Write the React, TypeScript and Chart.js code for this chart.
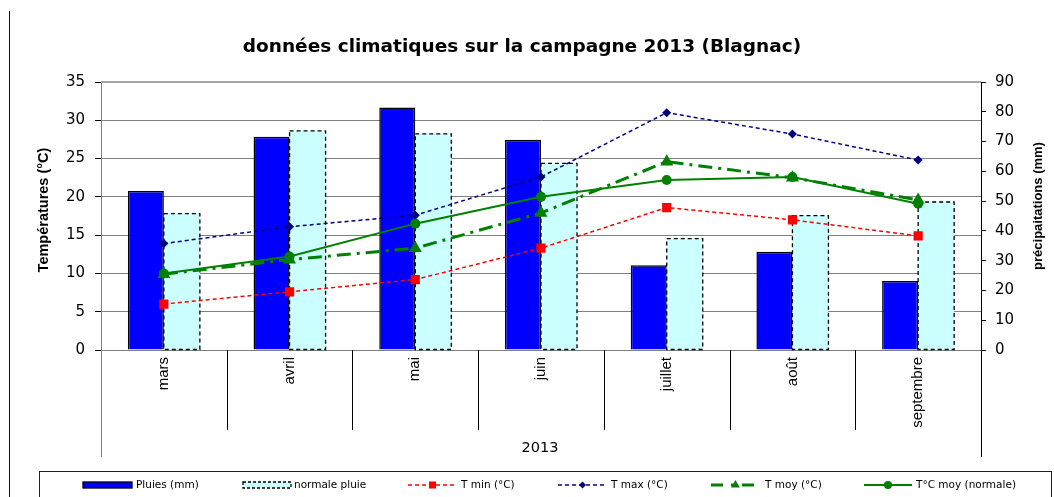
import React, { useEffect, useRef } from "react";
import { Chart, registerables } from "chart.js";

Chart.register(...registerables);

// ---------- data ----------
const months = ["mars", "avril", "mai", "juin", "juillet", "août", "septembre"];
const pluies = [53.4, 71.6, 81.4, 70.6, 28.5, 33.0, 23.2];
const normalePluie = [45.8, 73.6, 72.6, 62.7, 37.4, 45.1, 49.7];
const tMin = [6.0, 7.6, 9.2, 13.3, 18.6, 17.0, 14.9];
const tMax = [13.9, 16.1, 17.6, 22.6, 31.0, 28.2, 24.8];
const tMoy = [9.9, 11.8, 13.3, 17.9, 24.6, 22.5, 19.6];
const tMoyNormale = [10.0, 12.2, 16.5, 20.0, 22.2, 22.6, 19.1];

const tempMin = 0;
const tempMax = 35;
const tempStep = 5;
const rainMin = 0;
const rainMax = 90;
const rainStep = 10;

const yearLabel = "2013";
const titleText = "données climatiques sur la campagne 2013 (Blagnac)";
const leftTitle = "Températures (°C)";
const rightTitle = "précipaitations (mm)";
const seriesLabels = [
  "Pluies (mm)",
  "normale pluie",
  "T min (°C)",
  "T max (°C)",
  "T moy (°C)",
  "T°C moy (normale)",
];

const FONT_W = "'DejaVu Sans', 'Liberation Sans', sans-serif";
const FONT_A = "'Liberation Sans', Arial, sans-serif";

const W = 1054;
const H = 497;

function drawMarker(ctx: CanvasRenderingContext2D, style: string, x: number, y: number, r: number, color: string) {
  ctx.save();
  ctx.fillStyle = color;
  ctx.strokeStyle = color;
  ctx.setLineDash([]);
  ctx.beginPath();
  if (style === "rect") {
    const s = r * Math.SQRT1_2;
    ctx.rect(x - s, y - s, 2 * s, 2 * s);
  } else if (style === "rectRot") {
    ctx.moveTo(x - r, y);
    ctx.lineTo(x, y - r);
    ctx.lineTo(x + r, y);
    ctx.lineTo(x, y + r);
    ctx.closePath();
  } else if (style === "triangle") {
    ctx.moveTo(x, y - r);
    ctx.lineTo(x + r * Math.sin((2 * Math.PI) / 3), y + r / 2);
    ctx.lineTo(x - r * Math.sin((2 * Math.PI) / 3), y + r / 2);
    ctx.closePath();
  } else {
    ctx.arc(x, y, r, 0, Math.PI * 2);
  }
  ctx.fill();
  ctx.restore();
}

const decorPlugin = {
  id: "decor",
  afterDatasetDraw(chart: any, args: any) {
    if (args.index !== 1) return;
    const ctx: CanvasRenderingContext2D = chart.ctx;
    ctx.save();
    ctx.strokeStyle = "#000";
    ctx.lineWidth = 1.3;
    ctx.setLineDash([4, 3]);
    args.meta.data.forEach((el: any) => {
      const p = el.getProps(["x", "y", "base", "width"], true);
      ctx.strokeRect(p.x - p.width / 2, p.y, p.width, p.base - p.y);
    });
    ctx.restore();
  },
  afterDraw(chart: any) {
    const ctx: CanvasRenderingContext2D = chart.ctx;
    const ca = chart.chartArea;
    const xs = chart.scales.x;
    ctx.save();

    // plot area top border
    ctx.strokeStyle = "#a6a6a6";
    ctx.lineWidth = 2;
    ctx.beginPath();
    ctx.moveTo(ca.left, ca.top);
    ctx.lineTo(ca.right, ca.top);
    ctx.stroke();

    // outer frame line
    ctx.strokeStyle = "#111";
    ctx.lineWidth = 1;
    ctx.beginPath();
    ctx.moveTo(9.5, 11);
    ctx.lineTo(9.5, H);
    ctx.stroke();

    // title
    ctx.fillStyle = "#000";
    ctx.font = `bold 18.5px ${FONT_W}`;
    ctx.textAlign = "center";
    ctx.textBaseline = "alphabetic";
    ctx.fillText(titleText, 522, 52);

    // left axis title
    ctx.save();
    ctx.translate(44, 210);
    ctx.rotate(-Math.PI / 2);
    ctx.font = `bold 14.5px ${FONT_A}`;
    ctx.textAlign = "center";
    ctx.textBaseline = "middle";
    ctx.fillText(leftTitle, 0, 0);
    ctx.restore();

    // right axis title
    ctx.save();
    ctx.translate(1038, 206);
    ctx.rotate(-Math.PI / 2);
    ctx.font = `bold 13px ${FONT_A}`;
    ctx.textAlign = "center";
    ctx.textBaseline = "middle";
    ctx.fillText(rightTitle, 0, 0);
    ctx.restore();

    // category dividers below axis
    ctx.strokeStyle = "#000";
    ctx.lineWidth = 1;
    ctx.beginPath();
    for (let i = 0; i < months.length - 1; i++) {
      const bx = Math.round((xs.getPixelForValue(i) + xs.getPixelForValue(i + 1)) / 2) + 0.5;
      ctx.moveTo(bx, ca.bottom);
      ctx.lineTo(bx, 430);
    }
    ctx.stroke();
    ctx.strokeStyle = "#808080";
    ctx.beginPath();
    ctx.moveTo(Math.round(ca.left) + 0.5, ca.bottom);
    ctx.lineTo(Math.round(ca.left) + 0.5, 457);
    ctx.stroke();
    ctx.strokeStyle = "#000";
    ctx.beginPath();
    ctx.moveTo(Math.round(ca.right) + 0.5, ca.bottom);
    ctx.lineTo(Math.round(ca.right) + 0.5, 457);
    ctx.stroke();

    // year label
    ctx.font = `14.5px ${FONT_W}`;
    ctx.textAlign = "center";
    ctx.textBaseline = "middle";
    ctx.fillText(yearLabel, 540, 448);

    // legend box
    ctx.strokeStyle = "#222";
    ctx.lineWidth = 1;
    ctx.strokeRect(39.5, 471.5, 1012, 40);

    const ly = 485;
    const items = [
      { x0: 83, x1: 132, tx: 136 },
      { x0: 243, x1: 291, tx: 294 },
      { x0: 408, x1: 457, tx: 461 },
      { x0: 558, x1: 607, tx: 611 },
      { x0: 711, x1: 760, tx: 765 },
      { x0: 864, x1: 912, tx: 916 },
    ];
    // bars
    ctx.fillStyle = "#0000ff";
    ctx.fillRect(items[0].x0, ly - 3, items[0].x1 - items[0].x0, 6);
    ctx.strokeStyle = "#000";
    ctx.lineWidth = 1.3;
    ctx.strokeRect(items[0].x0, ly - 3, items[0].x1 - items[0].x0, 6);
    ctx.fillStyle = "#ccffff";
    ctx.fillRect(items[1].x0, ly - 3, items[1].x1 - items[1].x0, 6);
    ctx.setLineDash([3, 2]);
    ctx.strokeRect(items[1].x0, ly - 3, items[1].x1 - items[1].x0, 6);
    ctx.setLineDash([]);
    // lines
    const lineDefs = [
      { c: "#ff0000", w: 1.5, d: [4, 3], m: "rect", r: 5 },
      { c: "#000080", w: 1.5, d: [4, 3], m: "rectRot", r: 3.5 },
      { c: "#008000", w: 3, d: [12, 8, 3, 8], m: "triangle", r: 5 },
      { c: "#008000", w: 2, d: [], m: "circle", r: 4 },
    ];
    lineDefs.forEach((ld, k) => {
      const it = items[k + 2];
      ctx.save();
      ctx.strokeStyle = ld.c;
      ctx.lineWidth = ld.w;
      ctx.setLineDash(ld.d);
      ctx.beginPath();
      ctx.moveTo(it.x0, ly);
      ctx.lineTo(it.x1, ly);
      ctx.stroke();
      ctx.restore();
      drawMarker(ctx, ld.m, (it.x0 + it.x1) / 2, ly, ld.r, ld.c);
    });
    ctx.fillStyle = "#000";
    ctx.font = `10.5px ${FONT_W}`;
    ctx.textAlign = "left";
    ctx.textBaseline = "middle";
    items.forEach((it, k) => ctx.fillText(seriesLabels[k], it.tx, ly));

    ctx.restore();
  },
};

export default function App() {
  const ref = useRef<HTMLCanvasElement | null>(null);

  useEffect(() => {
    if (!ref.current) return;
    const chart = new Chart(ref.current, {
      type: "bar",
      data: {
        labels: months,
        datasets: [
          {
            type: "bar",
            label: seriesLabels[0],
            data: pluies,
            yAxisID: "y1",
            backgroundColor: "#0000ff",
            borderColor: "#000",
            borderWidth: 1.5,
            order: 10,
            categoryPercentage: 0.573,
            barPercentage: 1,
          },
          {
            type: "bar",
            label: seriesLabels[1],
            data: normalePluie,
            yAxisID: "y1",
            backgroundColor: "#ccffff",
            borderWidth: 0,
            order: 10,
            categoryPercentage: 0.573,
            barPercentage: 1,
          },
          {
            type: "line",
            label: seriesLabels[2],
            data: tMin,
            yAxisID: "y",
            borderColor: "#ff0000",
            backgroundColor: "#ff0000",
            borderWidth: 1.5,
            borderDash: [4, 3],
            pointStyle: "rect",
            pointRadius: 6.5,
            pointBorderWidth: 0,
            pointBackgroundColor: "#ff0000",
            fill: false,
            tension: 0,
            order: 4,
          },
          {
            type: "line",
            label: seriesLabels[3],
            data: tMax,
            yAxisID: "y",
            borderColor: "#000080",
            backgroundColor: "#000080",
            borderWidth: 1.5,
            borderDash: [4, 3],
            pointStyle: "rectRot",
            pointRadius: 4.5,
            pointBorderWidth: 0,
            pointBackgroundColor: "#000080",
            fill: false,
            tension: 0,
            order: 3,
          },
          {
            type: "line",
            label: seriesLabels[4],
            data: tMoy,
            yAxisID: "y",
            borderColor: "#008000",
            backgroundColor: "#008000",
            borderWidth: 3,
            borderDash: [14, 6, 3, 6],
            pointStyle: "triangle",
            pointRadius: 7.5,
            pointBorderWidth: 0,
            pointBackgroundColor: "#008000",
            fill: false,
            tension: 0,
            order: 2,
          },
          {
            type: "line",
            label: seriesLabels[5],
            data: tMoyNormale,
            yAxisID: "y",
            borderColor: "#008000",
            backgroundColor: "#008000",
            borderWidth: 2,
            pointStyle: "circle",
            pointRadius: 5,
            pointBorderWidth: 0,
            pointBackgroundColor: "#008000",
            fill: false,
            tension: 0,
            order: 1,
          },
        ],
      },
      options: {
        responsive: false,
        animation: false,
        devicePixelRatio: 1,
        layout: { padding: { top: 82, left: 0, right: 0, bottom: 0 } },
        plugins: {
          legend: { display: false },
          title: { display: false },
          tooltip: { enabled: false },
        },
        scales: {
          x: {
            type: "category",
            offset: true,
            grid: { display: false, drawTicks: false },
            border: { display: true, color: "#808080", width: 1 },
            ticks: {
              autoSkip: false,
              minRotation: 90,
              maxRotation: 90,
              padding: 7,
              color: "#000",
              font: { family: FONT_A, size: 15 },
            },
            afterFit: (s: any) => {
              s.height = 147;
            },
          },
          y: {
            position: "left",
            min: tempMin,
            max: tempMax,
            ticks: {
              stepSize: tempStep,
              padding: 10,
              color: "#000",
              font: { family: FONT_W, size: 15 },
            },
            grid: {
              color: "#808080",
              lineWidth: 1,
              tickLength: 6,
              tickColor: "#000",
            },
            border: { color: "#808080", width: 1 },
            afterFit: (s: any) => {
              s.width = 101;
            },
          },
          y1: {
            position: "right",
            min: rainMin,
            max: rainMax,
            ticks: {
              stepSize: rainStep,
              padding: 9,
              color: "#000",
              font: { family: FONT_W, size: 15 },
            },
            grid: {
              drawOnChartArea: false,
              tickLength: 5,
              tickColor: "#000",
            },
            border: { color: "#000", width: 1 },
            afterFit: (s: any) => {
              s.width = 73;
            },
          },
        },
      },
      plugins: [decorPlugin],
    } as any);
    return () => chart.destroy();
  }, []);

  return (
    <div style={{ position: "absolute", left: 0, top: 0, width: W, height: H, background: "#fff" }}>
      <canvas ref={ref} width={W} height={H} style={{ display: "block" }} />
    </div>
  );
}
